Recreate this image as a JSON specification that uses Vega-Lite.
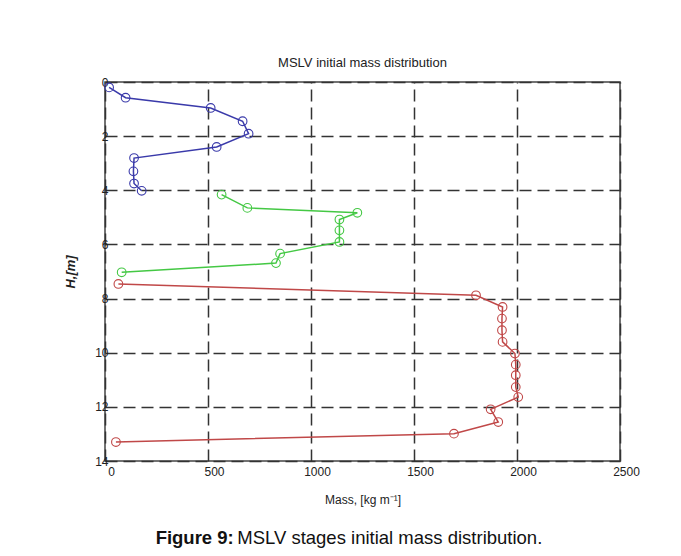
{
  "$schema": "https://vega.github.io/schema/vega-lite/v6.json",
  "autosize": {"type": "none"},
  "width": 515,
  "height": 379,
  "padding": {"left": 105, "top": 82, "right": 61, "bottom": 95},
  "background": "white",
  "title": {
    "text": "MSLV initial mass distribution",
    "font": "Liberation Sans",
    "fontSize": 13,
    "fontWeight": "normal",
    "color": "#222222",
    "offset": 6
  },
  "config": {
    "view": {"stroke": "#444444", "strokeWidth": 1.5},
    "axis": {
      "labelFont": "Liberation Sans",
      "labelFontSize": 12,
      "labelColor": "#222222",
      "titleFont": "Liberation Sans",
      "titleColor": "#222222",
      "grid": true,
      "gridColor": "#333333",
      "gridWidth": 1.5,
      "gridDash": [12, 6],
      "gridOpacity": 1,
      "ticks": false,
      "tickSize": 0,
      "domain": false,
      "labelFlush": false,
      "labelOverlap": false
    }
  },
  "data": {
    "values": [
      {"stage": "Stage 1", "i": 0, "mass": 20, "H": 0.2},
      {"stage": "Stage 1", "i": 1, "mass": 100, "H": 0.58},
      {"stage": "Stage 1", "i": 2, "mass": 513, "H": 0.96},
      {"stage": "Stage 1", "i": 3, "mass": 668, "H": 1.45},
      {"stage": "Stage 1", "i": 4, "mass": 697, "H": 1.91},
      {"stage": "Stage 1", "i": 5, "mass": 542, "H": 2.4},
      {"stage": "Stage 1", "i": 6, "mass": 141, "H": 2.81},
      {"stage": "Stage 1", "i": 7, "mass": 138, "H": 3.3},
      {"stage": "Stage 1", "i": 8, "mass": 141, "H": 3.75},
      {"stage": "Stage 1", "i": 9, "mass": 178, "H": 4.02},
      {"stage": "Stage 2", "i": 0, "mass": 566, "H": 4.16},
      {"stage": "Stage 2", "i": 1, "mass": 691, "H": 4.65},
      {"stage": "Stage 2", "i": 2, "mass": 1225, "H": 4.83},
      {"stage": "Stage 2", "i": 3, "mass": 1138, "H": 5.08},
      {"stage": "Stage 2", "i": 4, "mass": 1138, "H": 5.48},
      {"stage": "Stage 2", "i": 5, "mass": 1138, "H": 5.91},
      {"stage": "Stage 2", "i": 6, "mass": 850, "H": 6.34},
      {"stage": "Stage 2", "i": 7, "mass": 830, "H": 6.69},
      {"stage": "Stage 2", "i": 8, "mass": 81, "H": 7.03},
      {"stage": "Stage 3", "i": 0, "mass": 65, "H": 7.46},
      {"stage": "Stage 3", "i": 1, "mass": 1801, "H": 7.88},
      {"stage": "Stage 3", "i": 2, "mass": 1930, "H": 8.31},
      {"stage": "Stage 3", "i": 3, "mass": 1927, "H": 8.74},
      {"stage": "Stage 3", "i": 4, "mass": 1927, "H": 9.17},
      {"stage": "Stage 3", "i": 5, "mass": 1930, "H": 9.6},
      {"stage": "Stage 3", "i": 6, "mass": 1990, "H": 10.03},
      {"stage": "Stage 3", "i": 7, "mass": 1994, "H": 10.44},
      {"stage": "Stage 3", "i": 8, "mass": 1994, "H": 10.83},
      {"stage": "Stage 3", "i": 9, "mass": 1994, "H": 11.27},
      {"stage": "Stage 3", "i": 10, "mass": 2006, "H": 11.64},
      {"stage": "Stage 3", "i": 11, "mass": 1872, "H": 12.09},
      {"stage": "Stage 3", "i": 12, "mass": 1909, "H": 12.56},
      {"stage": "Stage 3", "i": 13, "mass": 1694, "H": 12.99},
      {"stage": "Stage 3", "i": 14, "mass": 53, "H": 13.3}
    ]
  },
  "layer": [
    {
      "mark": {"type": "line", "strokeWidth": 1.5},
      "encoding": {
        "x": {
          "field": "mass",
          "type": "quantitative",
          "scale": {"domain": [0, 2500], "nice": false, "zero": false},
          "axis": {
            "values": [0, 500, 1000, 1500, 2000, 2500],
            "format": "d",
            "labelPadding": 5,
            "labelOffset": 6,
            "title": "Mass, [kg m⁻¹]",
            "titleFontSize": 12,
            "titleFontWeight": "normal",
            "titlePadding": 17
          }
        },
        "y": {
          "field": "H",
          "type": "quantitative",
          "scale": {"domain": [0, 14], "nice": false, "zero": false, "reverse": true},
          "axis": {
            "values": [0, 2, 4, 6, 8, 10, 12, 14],
            "labelPadding": -3,
            "title": "H,[m]",
            "titleFontSize": 13,
            "titleFontWeight": "bold",
            "titleFontStyle": "italic",
            "titlePadding": 17
          }
        },
        "color": {
          "field": "stage",
          "type": "nominal",
          "scale": {"domain": ["Stage 1", "Stage 2", "Stage 3"], "range": ["#3a3aaa", "#44c844", "#c04848"]},
          "legend": null
        },
        "order": {"field": "i", "type": "quantitative"}
      }
    },
    {
      "mark": {"type": "point", "shape": "circle", "filled": false, "size": 75, "strokeWidth": 1.1, "opacity": 1},
      "encoding": {
        "x": {"field": "mass", "type": "quantitative"},
        "y": {"field": "H", "type": "quantitative"},
        "color": {"field": "stage", "type": "nominal", "legend": null}
      }
    },
    {
      "data": {"values": [{"caption": "Figure 9:"}]},
      "mark": {"type": "text", "align": "right", "baseline": "alphabetic", "font": "Liberation Sans", "fontSize": 18.5, "fontWeight": "bold", "fill": "#111111", "clip": false},
      "encoding": {
        "x": {"datum": 625, "type": "quantitative"},
        "y": {"datum": 17.08, "type": "quantitative"},
        "text": {"field": "caption", "type": "nominal"}
      }
    },
    {
      "data": {"values": [{"caption": "MSLV stages initial mass distribution."}]},
      "mark": {"type": "text", "align": "left", "baseline": "alphabetic", "font": "Liberation Sans", "fontSize": 18.5, "fontWeight": "normal", "fill": "#111111", "clip": false},
      "encoding": {
        "x": {"datum": 642, "type": "quantitative"},
        "y": {"datum": 17.08, "type": "quantitative"},
        "text": {"field": "caption", "type": "nominal"}
      }
    }
  ]
}
